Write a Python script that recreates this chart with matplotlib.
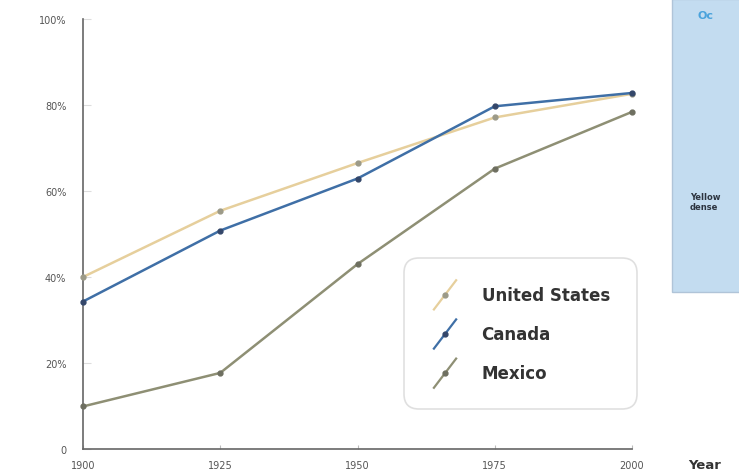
import matplotlib
matplotlib.use("Agg")
import matplotlib.pyplot as plt
from matplotlib.lines import Line2D
from matplotlib.legend_handler import HandlerBase
from matplotlib.patches import Rectangle

years = [1900, 1925, 1950, 1975, 2000]
us = [40.0, 55.4, 66.5, 77.1, 82.6]
canada = [34.3, 50.8, 62.9, 79.7, 82.8]
mexico = [9.9, 17.7, 43.0, 65.2, 78.4]
series_names = ["United States", "Canada", "Mexico"]
y_ticks = [0, 20, 40, 60, 80, 100]
y_labels = ["0", "20%", "40%", "60%", "80%", "100%"]

colors = ["#e6cf9c", "#3f6fa6", "#8e8f74"]
marker_colors = ["#9c9a88", "#34476a", "#6e6f60"]

fig = plt.figure(figsize=(7.39, 4.77), dpi=100)
fig.patch.set_facecolor("white")

# right side blue panel (cropped)
fig.patches.append(Rectangle((672/739, 1-293/477), 0.2, 293/477, transform=fig.transFigure,
                             facecolor="#c3dcf0", edgecolor="#b0c4d8", lw=1.0, zorder=0))
fig.text(698/739, 1-16/477, "Oc", color="#4aa3dc", fontsize=8, fontweight="bold",
         va="center", ha="left")
fig.text(690/739, 1-198/477, "Yellow", color="#2c3440", fontsize=6, fontweight="bold",
         va="center", ha="left")
fig.text(690/739, 1-207/477, "dense", color="#2c3440", fontsize=6, fontweight="bold",
         va="center", ha="left")
fig.text(688/739, 1-466/477, "Year", color="#333333", fontsize=9.5, fontweight="bold",
         va="center", ha="left")

ax = fig.add_axes([83/739, 1-450/477, (632-83)/739, (450-20)/477])
ax.set_xlim(1900, 2000)
ax.set_ylim(0, 100)

data = [us, canada, mexico]
for vals, c, mc, name in zip(data, colors, marker_colors, series_names):
    ax.plot(years, vals, color=c, lw=1.8, marker="o", markersize=3.5,
            markerfacecolor=mc, markeredgecolor=mc, label=name, clip_on=False, zorder=3)

for s in ["top", "right"]:
    ax.spines[s].set_visible(False)
for s in ["left", "bottom"]:
    ax.spines[s].set_color("#666666")
    ax.spines[s].set_linewidth(1.2)

ax.set_yticks(y_ticks)
ax.set_yticklabels(y_labels)
ax.set_xticks(years)
ax.set_xticklabels([str(y) for y in years])
ax.tick_params(axis="y", direction="in", length=6, color="#dddddd", labelsize=7,
               labelcolor="#555555", pad=12)
ax.tick_params(axis="x", direction="in", length=3, color="#bbbbbb", labelsize=7,
               labelcolor="#555555", pad=8)


class DiagHandler(HandlerBase):
    def create_artists(self, legend, orig_handle, xdescent, ydescent, width, height,
                       fontsize, trans):
        cx, cy = width * 0.45, height * 0.4
        x0, x1 = cx - 8, cx + 8
        y0, y1 = cy - 10.5, cy + 10.5
        ln = Line2D([x0, x1], [y0, y1], color=orig_handle.get_color(), lw=1.6)
        mk = Line2D([cx], [cy], marker="o", markersize=3.5,
                    color=orig_handle.get_markerfacecolor(), lw=0)
        ln.set_transform(trans)
        mk.set_transform(trans)
        return [ln, mk]


handles, labels = ax.get_legend_handles_labels()
leg = ax.legend(handles, labels, handler_map={Line2D: DiagHandler()},
                loc="lower right", bbox_to_anchor=(1.009, 0.093),
                frameon=True, fancybox=True, borderpad=1.63, labelspacing=1.27,
                handlelength=1.8, handletextpad=1.2, borderaxespad=0,
                prop={"weight": "bold", "size": 12})
leg.get_frame().set_edgecolor("#d8d8d8")
leg.get_frame().set_linewidth(1.2)
leg.get_frame().set_boxstyle("round,pad=0,rounding_size=0.9")
for t in leg.get_texts():
    t.set_color("#333333")

fig.savefig("out.png", dpi=100)
